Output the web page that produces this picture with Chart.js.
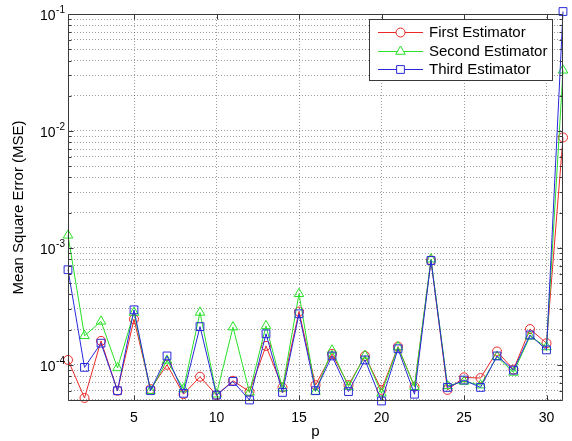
<!DOCTYPE html>
<html><head><meta charset="utf-8">
<script src="https://cdn.jsdelivr.net/npm/chart.js@4"></script>
<style>html,body{margin:0;padding:0;background:#fff}#wrap{width:572px;height:441px}</style>
</head><body><div id="wrap"><canvas id="c" width="572" height="441"></canvas></div>
<script>
const pValues = [1,2,3,4,5,6,7,8,9,10,11,12,13,14,15,16,17,18,19,20,21,22,23,24,25,26,27,28,29,30,31];
const firstEstimator = [1.1e-4,5.2e-5,1.6e-4,6.0e-5,2.45e-4,6.2e-5,1.0e-4,5.6e-5,7.9e-5,5.5e-5,7.3e-5,5.9e-5,1.45e-4,6.4e-5,2.85e-4,6.7e-5,1.24e-4,6.7e-5,1.19e-4,6.1e-5,1.43e-4,6.5e-5,7.8e-4,6.1e-5,7.8e-5,7.7e-5,1.30e-4,9.1e-5,2.02e-4,1.53e-4,8.8e-3];
const secondEstimator = [1.28e-3,1.77e-4,2.35e-4,9.4e-5,2.8e-4,6.0e-5,1.09e-4,6.2e-5,2.8e-4,5.6e-5,2.1e-4,5.8e-5,2.15e-4,6.3e-5,4.05e-4,5.9e-5,1.33e-4,6.5e-5,1.2e-4,5.7e-5,1.42e-4,6.5e-5,8.0e-4,6.6e-5,7.2e-5,6.7e-5,1.17e-4,8.6e-5,1.75e-4,1.42e-4,3.3e-2];
const thirdEstimator = [6.5e-4,9.5e-5,1.53e-4,6.0e-5,2.95e-4,6.0e-5,1.19e-4,5.7e-5,2.12e-4,5.5e-5,7.2e-5,5.0e-5,1.84e-4,5.8e-5,2.73e-4,6.0e-5,1.19e-4,5.9e-5,1.10e-4,4.9e-5,1.37e-4,5.6e-5,7.8e-4,6.4e-5,7.4e-5,6.4e-5,1.19e-4,9.0e-5,1.80e-4,1.34e-4,1.05e-1];
const seriesLabels = ['First Estimator','Second Estimator','Third Estimator'];
const xTickValues = [5,10,15,20,25,30];
const yDecadeExponents = [-5,-4,-3,-2,-1];
const xMin = 1, xMax = 31, yMin = 4.9e-5, yMax = 0.1;
const xTitle = 'p';
const yTitle = 'Mean Square Error (MSE)';

function isDecade(v){ const l=Math.log10(v); return Math.abs(l-Math.round(l))<1e-9; }

const FONT = '"Liberation Sans", Arial, sans-serif';
const colors = ['rgb(235,40,40)','rgb(40,225,40)','rgb(40,40,220)'];
const styles = ['circle','triangle','rect'];
const radii = [4.5,5.5,5.5];
const seriesData = [firstEstimator, secondEstimator, thirdEstimator];

const datasets = seriesData.map((arr,i)=>({
  label: seriesLabels[i],
  data: pValues.map((p,j)=>({x:p,y:arr[j]})),
  borderColor: colors[i],
  backgroundColor: 'rgba(0,0,0,0)',
  borderWidth: 1,
  pointStyle: styles[i],
  pointRadius: radii[i],
  pointBorderWidth: 1,
  pointBorderColor: colors[i],
  pointBackgroundColor: 'rgba(0,0,0,0)',
  tension: 0,
  fill: false,
  clip: false,
  order: 3 - i
}));

const frameColor = '#3a3a3a';

const framePlugin = {
  id: 'matlabFrame',
  afterDatasetsDraw(chart){
    const {ctx, chartArea:a, scales:{x,y}} = chart;
    ctx.save();
    ctx.strokeStyle = frameColor;
    ctx.lineWidth = 1;
    const L = Math.round(a.left)+0.5, R = Math.round(a.right)-0.5, T = Math.round(a.top)+0.5, B = Math.round(a.bottom)-0.5;
    ctx.beginPath();
    ctx.rect(L, T, R-L, B-T);
    ctx.stroke();
    ctx.beginPath();
    y.ticks.forEach(t=>{
      const py = Math.round(y.getPixelForValue(t.value))+0.5;
      const len = isDecade(t.value) ? 5 : 3;
      ctx.moveTo(L, py); ctx.lineTo(L+len, py);
      ctx.moveTo(R, py); ctx.lineTo(R-len, py);
    });
    x.ticks.forEach(t=>{
      const px = Math.round(x.getPixelForValue(t.value))+0.5;
      ctx.moveTo(px, B); ctx.lineTo(px, B-5);
      ctx.moveTo(px, T); ctx.lineTo(px, T+5);
    });
    ctx.stroke();
    // y decade labels, MATLAB style 10^e
    ctx.fillStyle = '#000';
    ctx.textAlign = 'left';
    ctx.textBaseline = 'alphabetic';
    y.ticks.forEach(t=>{
      if (!isDecade(t.value)) return;
      const e = String(Math.round(Math.log10(t.value)));
      const py = y.getPixelForValue(t.value);
      ctx.font = '10px ' + FONT;
      const ew = ctx.measureText(e).width;
      ctx.font = '14px ' + FONT;
      const bw = ctx.measureText('10').width;
      const right = a.left - 3;
      ctx.fillText('10', right - ew - bw - 0.5, py + 6);
      ctx.font = '10px ' + FONT;
      ctx.fillText(e, right - ew, py - 1);
    });
    ctx.restore();
  },
  afterDraw(chart){
    const {ctx} = chart;
    ctx.save();
    const bx = 369.5, by = 19.5, bw = 183, bh = 61;
    ctx.fillStyle = '#fff';
    ctx.fillRect(bx, by, bw, bh);
    ctx.strokeStyle = frameColor;
    ctx.lineWidth = 1;
    ctx.strokeRect(bx, by, bw, bh);
    chart.data.datasets.forEach((ds,i)=>{
      const yy = 32 + i*18.5;
      ctx.strokeStyle = ds.borderColor;
      ctx.lineWidth = 1;
      ctx.beginPath(); ctx.moveTo(378, Math.round(yy)+0.5); ctx.lineTo(423, Math.round(yy)+0.5); ctx.stroke();
      ctx.fillStyle = '#fff';
      const opts = {pointStyle: ds.pointStyle, radius: ds.pointRadius, borderWidth: 1, rotation: 0};
      if (Chart.helpers && Chart.helpers.drawPoint) {
        Chart.helpers.drawPoint(ctx, opts, 400.5, Math.round(yy)+0.5);
      }
      ctx.fillStyle = '#000';
      ctx.font = '15px ' + FONT;
      ctx.textBaseline = 'middle';
      ctx.textAlign = 'left';
      ctx.fillText(ds.label, 429, yy+1);
    });
    ctx.restore();
  }
};

new Chart(document.getElementById('c'), {
  type: 'line',
  data: { datasets },
  options: {
    responsive: false,
    animation: false,
    devicePixelRatio: 1,
    layout: { padding: { left: 0, right: 9, top: 14, bottom: 0 } },
    plugins: { legend: { display: false }, tooltip: { enabled: false } },
    scales: {
      x: {
        type: 'linear', min: xMin, max: xMax,
        afterBuildTicks: s => { s.ticks = xTickValues.map(v=>({value:v})); },
        afterFit: s => { s.height = 40; },
        grid: { color: 'rgba(0,0,0,0.38)', lineWidth: 1, drawTicks: false, borderDash: [1,2] },
        border: { display: false, dash: [1,2] },
        ticks: { autoSkip: false, maxRotation: 0, padding: 9, color: '#000', font: { size: 14, family: FONT } },
        title: { display: true, text: xTitle, color: '#000', font: { size: 15, family: FONT }, padding: { top: 0, bottom: 0 } }
      },
      y: {
        type: 'logarithmic', min: yMin, max: yMax,
        afterBuildTicks: s => {
          const t = [];
          yDecadeExponents.forEach(e => {
            for (let m = 1; m <= 9; m++) {
              const v = parseFloat((m * Math.pow(10, e)).toPrecision(6));
              if (v >= yMin - 1e-12 && v <= yMax + 1e-12) t.push({value: v});
            }
          });
          s.ticks = t;
        },
        afterFit: s => { s.width = 68; },
        grid: { color: 'rgba(0,0,0,0.38)', lineWidth: 1, drawTicks: false, borderDash: [1,2] },
        border: { display: false, dash: [1,2] },
        ticks: { display: false, autoSkip: false },
        title: { display: true, text: yTitle, color: '#000', font: { size: 15, family: FONT }, padding: { top: 10, bottom: 0 } }
      }
    }
  },
  plugins: [framePlugin]
});
</script>
</body></html>
